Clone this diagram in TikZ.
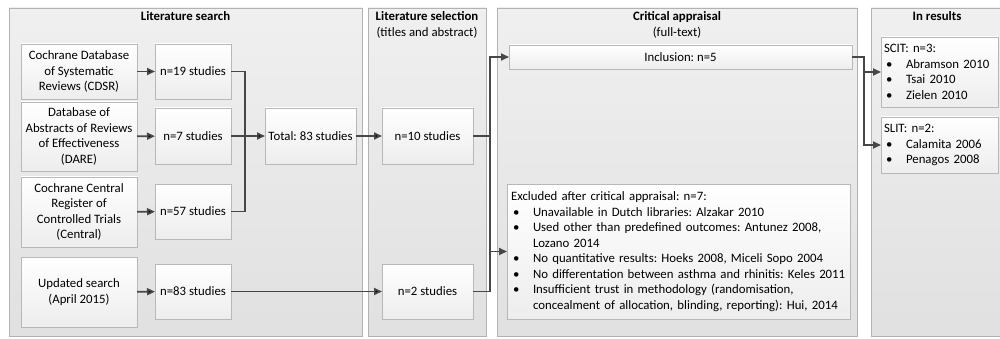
\documentclass[tikz,border=0pt]{standalone}
\usepackage{fontspec}
\setmainfont{Carlito}
\usetikzlibrary{arrows.meta,shadows}
\frenchspacing

\begin{document}
\begin{tikzpicture}[x=1pt, y=-1pt, font=\fontsize{12.8pt}{15.5pt}\selectfont,
    panel node/.style={draw=black!30, top color=black!6, bottom color=black!12,
                       anchor=north west, inner sep=0pt, outer sep=0pt},
    main node/.style={draw=black!28, top color=white, bottom color=black!7,
                      anchor=north west, align=center, inner sep=2pt, outer sep=0pt,
                      drop shadow={shadow xshift=1pt, shadow yshift=-1.2pt, opacity=.3}},
    list node/.style={main node, align=left, inner sep=3pt},
    link line/.style={draw=black!72, line width=1.7pt},
    arrow line/.style={link line, -{Triangle[length=8pt,width=7pt]}}]

\useasboundingbox (0,0) rectangle (1000,339);

% columns
\node[panel node, minimum width=353pt, minimum height=328pt,
      label={[anchor=north]north:\textbf{Literature search}}] (p1) at (9,8) {};
\node[panel node, minimum width=118pt, minimum height=328pt,
      label={[anchor=north, align=center]north:{\textbf{Literature selection}\\(titles and abstract)}}] (p2) at (368,8) {};
\node[panel node, minimum width=360pt, minimum height=328pt,
      label={[anchor=north, align=center]north:{\textbf{Critical appraisal}\\(full-text)}}] (p3) at (497,8) {};
\node[panel node, minimum width=140pt, minimum height=328pt,
      label={[anchor=north, xshift=-4pt]north:\textbf{In results}}] (p4) at (871,8) {};

% literature search
\node[main node, minimum width=116pt, minimum height=55pt] (1) at (21,44) {Cochrane Database\\of Systematic\\Reviews (CDSR)};
\node[main node, minimum width=116pt, minimum height=69pt] (2) at (21,102) {Database of\\Abstracts of Reviews\\of Effectiveness\\(DARE)};
\node[main node, minimum width=116pt, minimum height=70pt] (3) at (21,177) {Cochrane Central\\Register of\\Controlled Trials\\(Central)};
\node[main node, minimum width=116pt, minimum height=70pt] (4) at (21,257) {Updated search\\(April 2015)};
\node[main node, minimum width=76pt, minimum height=55pt] (5) at (155,44) {n=19 studies};
\node[main node, minimum width=76pt, minimum height=56pt] (6) at (155,108) {n=7 studies};
\node[main node, minimum width=76pt, minimum height=55pt] (7) at (155,184) {n=57 studies};
\node[main node, minimum width=76pt, minimum height=55pt] (8) at (155,264) {n=83 studies};
\node[main node, minimum width=91pt, minimum height=56pt] (9) at (265,108) {Total: 83 studies};

% selection
\node[main node, minimum width=91pt, minimum height=56pt] (10) at (382,108) {n=10 studies};
\node[main node, minimum width=91pt, minimum height=55pt] (11) at (382,264) {n=2 studies};

% appraisal
\node[main node, minimum width=343pt, minimum height=24pt] (12) at (509,45) {Inclusion: n=5};
\node[list node, inner sep=4pt, text width=335pt, minimum height=135pt] (13) at (507,184) {Excluded after critical appraisal: n=7:\\
\makebox[22pt][l]{\,\textbullet}Unavailable in Dutch libraries: Alzakar 2010\\
\makebox[22pt][l]{\,\textbullet}Used other than predefined outcomes: Antunez 2008,\\
\hspace*{22pt}Lozano 2014\\
\makebox[22pt][l]{\,\textbullet}No quantitative results: Hoeks 2008, Miceli Sopo 2004\\
\makebox[22pt][l]{\,\textbullet}No differentation between asthma and rhinitis: Keles 2011\\
\makebox[22pt][l]{\,\textbullet}Insufficient trust in methodology (randomisation,\\
\hspace*{22pt}concealment of allocation, blinding, reporting): Hui, 2014};

% results
\node[list node, text width=111pt, minimum height=70pt] (14) at (881,37) {SCIT: n=3:\\
\makebox[22pt][l]{\,\textbullet}Abramson 2010\\
\makebox[22pt][l]{\,\textbullet}Tsai 2010\\
\makebox[22pt][l]{\,\textbullet}Zielen 2010};
\node[list node, text width=111pt, minimum height=56pt] (15) at (881,117) {SLIT: n=2:\\
\makebox[22pt][l]{\,\textbullet}Calamita 2006\\
\makebox[22pt][l]{\,\textbullet}Penagos 2008};

\coordinate (a) at (245,136);
\coordinate (b) at (490,136);
\coordinate (c) at (490,251.5);
\coordinate (d) at (864,57);

\path[arrow line]
    (1) edge (5)
    (2) edge (6)
    (3) edge (7)
    (4) edge (8)
    (6) edge (9)
    (9) edge (10)
    (8) edge (11);
\draw[link line] (5) -| (a) (7) -| (a);
\draw[arrow line] (10) -- (b) |- (12);
\draw[link line] (b) -- (c);
\draw[arrow line] (11) -| (c) -- (13);
\draw[arrow line] (12) -- (d) |- (14);
\draw[arrow line] (d) |- (15);

\end{tikzpicture}
\end{document}
